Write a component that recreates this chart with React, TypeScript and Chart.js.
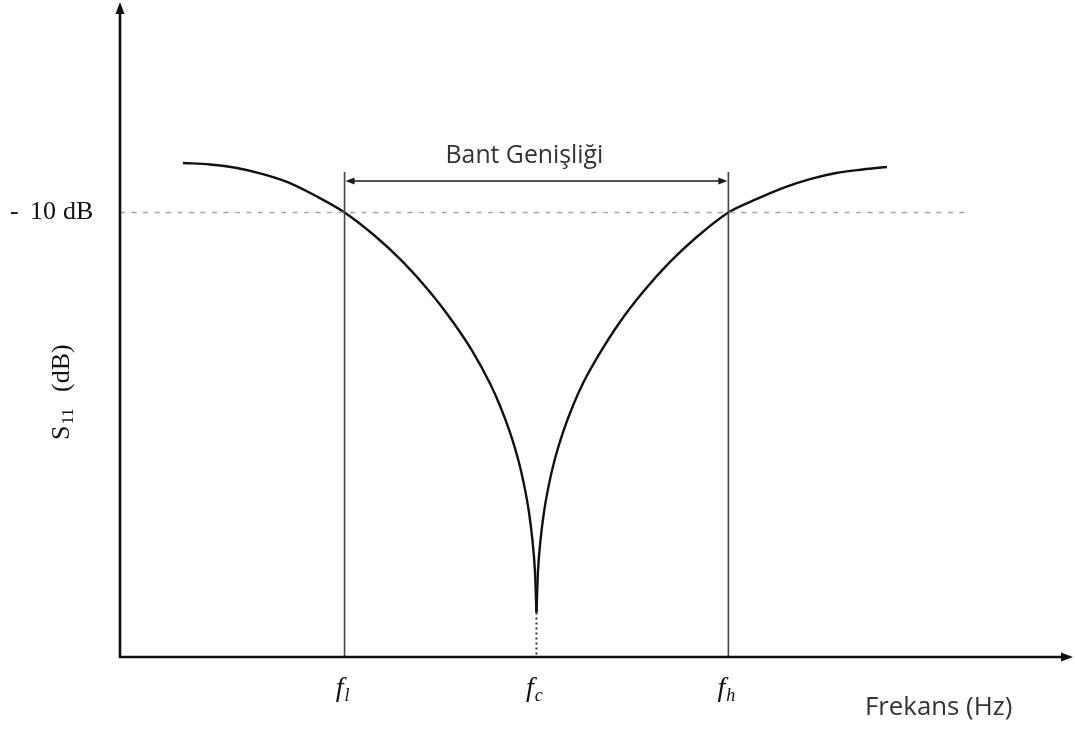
import React, { useEffect, useRef } from "react";
import { Chart, registerables } from "chart.js";

Chart.register(...registerables);

// S11 curve, branch below resonance (frequency, dB)
const lowerFreq = [
  3.158, 3.299, 3.439, 3.57, 3.7, 3.851, 4.0, 4.159, 4.304, 4.445, 4.565,
  4.669, 4.758, 4.81, 4.862, 4.904, 4.935, 4.961, 4.979, 4.992, 5.0,
];
const lowerDb = [
  -6.66, -6.76, -7.0, -7.4, -7.94, -8.89, -10.0, -11.59, -13.34, -15.37, -17.39,
  -19.42, -21.54, -23.04, -24.84, -26.64, -28.35, -30.23, -32.12, -34.2, -37.0,
];

// S11 curve, branch above resonance
const upperFreq = [
  5.0, 5.008, 5.021, 5.039, 5.065, 5.096, 5.138, 5.19, 5.242, 5.331, 5.435,
  5.555, 5.696, 5.841, 6.0, 6.149, 6.3, 6.43, 6.561, 6.701, 6.826,
];
const upperDb = [
  -37.0, -34.2, -32.12, -30.23, -28.35, -26.64, -24.84, -23.04, -21.54, -19.48, -17.39,
  -15.37, -13.34, -11.59, -10.0, -9.09, -8.28, -7.74, -7.34, -7.1, -6.93,
];

// f_l, f_c, f_h
const markerFreqs = [4.0, 5.0, 6.0];
const markerSubs = ["l", "c", "h"];

const thresholdDb = -10;
const thresholdEndFreq = 7.23;
const freqRange = [2.83, 7.78];
const dbRange = [-40, 4];
const edgeTopDb = -7.27;
const bandArrowDb = -7.88;

const SERIF = '"Liberation Serif", "Times New Roman", serif';
const SANS = '"Open Sans", sans-serif';

const toPoints = (xs: number[], ys: number[]) => xs.map((x, i) => ({ x, y: ys[i] }));

const overlay = {
  id: "overlay",
  afterDatasetsDraw(chart: any) {
    const { ctx, chartArea, scales } = chart;
    const sx = scales.x;
    const sy = scales.y;
    const left = chartArea.left;
    const right = chartArea.right;
    const top = chartArea.top;
    const bottom = sy.getPixelForValue(dbRange[0]);

    ctx.save();

    // axes with arrowheads
    ctx.strokeStyle = "#111";
    ctx.fillStyle = "#111";
    ctx.lineWidth = 2.6;
    ctx.beginPath();
    ctx.moveTo(left, bottom + 1);
    ctx.lineTo(left, top + 8);
    ctx.moveTo(left - 1, bottom);
    ctx.lineTo(right - 6, bottom);
    ctx.stroke();

    ctx.beginPath();
    ctx.moveTo(left, top - 3);
    ctx.lineTo(left - 4.5, top + 9);
    ctx.lineTo(left + 4.5, top + 9);
    ctx.closePath();
    ctx.fill();

    ctx.beginPath();
    ctx.moveTo(right + 3, bottom);
    ctx.lineTo(right - 9, bottom - 4.5);
    ctx.lineTo(right - 9, bottom + 4.5);
    ctx.closePath();
    ctx.fill();

    // bandwidth arrow between f_l and f_h
    const xl = sx.getPixelForValue(markerFreqs[0]);
    const xh = sx.getPixelForValue(markerFreqs[2]);
    const ya = sy.getPixelForValue(bandArrowDb);
    ctx.strokeStyle = "#1a1a1a";
    ctx.fillStyle = "#1a1a1a";
    ctx.lineWidth = 1.6;
    ctx.beginPath();
    ctx.moveTo(xl + 4, ya);
    ctx.lineTo(xh - 4, ya);
    ctx.stroke();
    ctx.beginPath();
    ctx.moveTo(xl + 1, ya);
    ctx.lineTo(xl + 10, ya - 3.5);
    ctx.lineTo(xl + 10, ya + 3.5);
    ctx.closePath();
    ctx.fill();
    ctx.beginPath();
    ctx.moveTo(xh - 1, ya);
    ctx.lineTo(xh - 10, ya - 3.5);
    ctx.lineTo(xh - 10, ya + 3.5);
    ctx.closePath();
    ctx.fill();

    // bandwidth caption
    ctx.fillStyle = "#333";
    ctx.font = `24.8px ${SANS}`;
    ctx.textAlign = "center";
    ctx.textBaseline = "middle";
    ctx.fillText("Bant Genişliği", (xl + xh) / 2 - 12, 156);

    // x-axis title
    ctx.font = `25.8px ${SANS}`;
    ctx.textAlign = "left";
    ctx.fillText("Frekans (Hz)", 865, 708);

    // threshold label
    const yt = sy.getPixelForValue(thresholdDb);
    ctx.fillStyle = "#111";
    ctx.font = `26px ${SERIF}`;
    ctx.textBaseline = "middle";
    ctx.fillText("-", 10, yt);
    ctx.fillText("10", 30, yt);
    ctx.fillText("dB", 63, yt);

    // y-axis title, rotated
    ctx.save();
    ctx.translate(69, 440);
    ctx.rotate(-Math.PI / 2);
    ctx.textBaseline = "alphabetic";
    ctx.font = `26px ${SERIF}`;
    ctx.fillText("S", 0, 0);
    const wS = ctx.measureText("S").width;
    ctx.font = `17px ${SERIF}`;
    ctx.fillText("11", wS + 1, 4);
    ctx.font = `26px ${SERIF}`;
    ctx.fillText("(dB)", 48, 0);
    ctx.restore();

    // frequency markers f_l, f_c, f_h
    markerFreqs.forEach((f, i) => {
      const px = sx.getPixelForValue(f);
      ctx.font = `italic 28px ${SERIF}`;
      const wf = ctx.measureText("f").width;
      ctx.font = `italic 18px ${SERIF}`;
      const wsub = ctx.measureText(markerSubs[i]).width;
      const start = px - 2 - (wf + wsub + 1) / 2;
      ctx.textBaseline = "alphabetic";
      ctx.textAlign = "left";
      ctx.font = `italic 28px ${SERIF}`;
      ctx.fillText("f", start, 696);
      ctx.font = `italic 18px ${SERIF}`;
      ctx.fillText(markerSubs[i], start + wf + 1, 701);
    });

    ctx.restore();
  },
};

export default function App() {
  const canvasRef = useRef<HTMLCanvasElement | null>(null);

  useEffect(() => {
    const canvas = canvasRef.current;
    if (!canvas) return;
    const line = (data: any[], extra: any) => ({
      data,
      showLine: true,
      pointRadius: 0,
      pointHoverRadius: 0,
      fill: false,
      clip: false,
      ...extra,
    });
    const chart = new Chart(canvas, {
      type: "scatter",
      data: {
        datasets: [
          line([
            { x: freqRange[0], y: thresholdDb },
            { x: thresholdEndFreq, y: thresholdDb },
          ], { borderColor: "#a6a6a6", borderWidth: 1.6, borderDash: [5, 6.5] }),
          line(toPoints([markerFreqs[0], markerFreqs[0]], [dbRange[0], edgeTopDb]), {
            borderColor: "#444",
            borderWidth: 1.6,
          }),
          line(toPoints([markerFreqs[2], markerFreqs[2]], [dbRange[0], edgeTopDb]), {
            borderColor: "#444",
            borderWidth: 1.6,
          }),
          line(toPoints([markerFreqs[1], markerFreqs[1]], [lowerDb[lowerDb.length - 1], dbRange[0]]), {
            borderColor: "#333",
            borderWidth: 2,
            borderDash: [2, 3],
          }),
          line(toPoints(lowerFreq, lowerDb), {
            borderColor: "#111",
            borderWidth: 2.4,
            cubicInterpolationMode: "monotone",
          }),
          line(toPoints(upperFreq, upperDb), {
            borderColor: "#111",
            borderWidth: 2.4,
            cubicInterpolationMode: "monotone",
          }),
        ],
      },
      options: {
        responsive: false,
        maintainAspectRatio: false,
        animation: false,
        events: [],
        layout: { padding: { left: 120, right: 5, top: 5, bottom: 73 } },
        plugins: { legend: { display: false }, tooltip: { enabled: false } },
        scales: {
          x: { type: "linear", min: freqRange[0], max: freqRange[1], display: false },
          y: { type: "linear", min: dbRange[0], max: dbRange[1], display: false },
        },
      },
      plugins: [overlay],
    });
    return () => chart.destroy();
  }, []);

  return (
    <div style={{ position: "absolute", left: 0, top: 0, width: 1075, height: 730, background: "#fff" }}>
      <canvas ref={canvasRef} width={1075} height={730} style={{ display: "block" }} />
    </div>
  );
}
